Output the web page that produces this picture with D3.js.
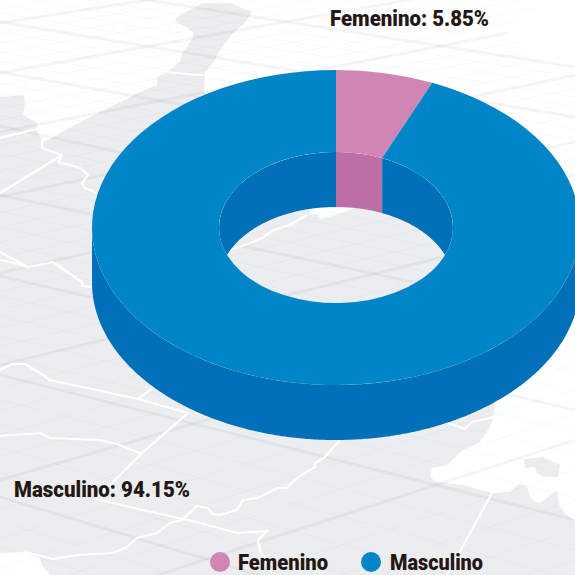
<!DOCTYPE html>
<html>
<head>
<meta charset="utf-8">
<script src="https://d3js.org/d3.v7.min.js"></script>
<style>
  html, body { margin: 0; padding: 0; background: #fff; }
  svg { display: block; }
  text { font-family: Roboto, sans-serif; font-weight: 900; fill: #231815; }
</style>
</head>
<body>
<svg id="donut" width="575" height="575"></svg>
<script>
 // Chart data
 const categories = ["Femenino", "Masculino"];
 const percentLabels = ["5.85%", "94.15%"];
 // the drawn slice in the picture is a bit wider than its label says, so read the angle off it
 const drawnShares = [6.45, 93.55];
 const topColors = ["#d086b5", "#0085c7"];
 const wallColors = ["#bc6fa6", "#0071b8"];

 // Background map, traced by hand. Grid lines are [x0, y0, x1, y1]
 const gridDown = [
     [0,-23,575,67], [0,22,575,117], [0,72,575,175], [0,126,575,252], [0,195,575,316],
     [0,276,575,410], [0,375,575,520], [0,497,575,670], [0,620,575,800]
 ];
 const gridUp = [
     [0,23,575,-67], [0,73,575,-30], [0,132,508,33], [0,197,575,75], [0,273,575,142],
     [0,365,575,225], [0,480,575,313], [0,626,575,440], [0,770,575,590]
 ];
 const land = [
     [[0,97],[24,95],[25,106],[23,115],[37,123],[37,132],[44,142],[75,125],[100,112],[125,100],[140,92],[157,85],
      [157,77],[167,72],[180,62],[183,52],[193,38],[193,32],[175,20],[180,15],[203,3],[230,3],[252,12],[245,23],
      [233,33],[222,47],[213,63],[205,72],[204,92],[215,100],[400,120],[560,300],[495,403],[493,417],[492,423],[480,442],[463,450],[447,465],
      [432,468],[430,477],[437,482],[463,485],[492,493],[510,492],[519,484],[527,487],[530,497],[534,501],[540,503],
      [548,497],[557,490],[558,497],[559,505],[565,513],[575,522],[575,575],[0,575]],
     [[524,459],[543,457],[560,465],[558,477],[545,477],[537,473],[535,467],[525,468]]
 ];
 const seaPatches = [
     [[0,553],[25,552],[40,558],[42,565],[50,575],[0,575]],
     [[310,208],[355,208],[345,212],[325,218],[320,219],[318,214],[310,215]]
 ];
 const borders = [
     [[0,138],[37,129]],
     [[0,193],[62,155]],
     [[42,140],[42,148],[62,155],[58,162],[80,168],[88,175],[82,183],[85,188],[97,193]],
     [[0,252],[28,267],[53,262],[82,282],[82,286],[93,287]],
     [[0,260],[10,262],[28,267]],
     [[0,370],[12,364],[25,364],[43,375],[50,380],[138,399],[188,413],[142,453],[110,485],[95,499]],
     [[138,399],[153,388]],
     [[0,436],[40,433],[50,438],[100,440],[117,444],[142,454]],
     [[95,499],[200,523],[237,533],[267,531],[258,540],[260,550],[273,575]],
     [[340,440],[325,457],[315,463],[315,467],[297,478],[287,488],[278,488],[257,498],[243,500],[237,510],[220,515],
      [212,514],[208,508],[197,506],[182,520],[170,523],[157,533],[137,538],[127,547],[113,553],[77,555],[53,559],[25,552]],
     [[492,493],[447,575]],
     [[448,423],[465,429],[472,422],[493,417]],
     [[230,250],[253,242],[262,238],[273,230],[290,225],[307,215]],
     [[167,72],[197,75],[204,75]]
 ];

 let svg = d3.select("svg#donut");

 const cx = 336, cy = 227.5;
 const outerR = 244, innerR = 117;
 const squash = 0.6455;
 const depth = 55;

 const lineGen = d3.line();

 // Background
 let background = svg.append("g").attr("id", "background");

 background.selectAll("path.land")
     .data(land)
     .join("path")
     .attr("class", "land")
     .attr("d", d => lineGen(d) + "Z")
     .attr("fill", "#ecedef");

 background.selectAll("path.sea")
     .data(seaPatches)
     .join("path")
     .attr("class", "sea")
     .attr("d", d => lineGen(d) + "Z")
     .attr("fill", "#fff");

 // thin lines split every gap between two thick lines in five
 function thinLines(family){
     let out = [];
     for(let i = 0; i < family.length - 1; i++){
         for(let k = 1; k < 5; k++){
             let mix = d3.interpolateNumberArray(family[i], family[i+1])(k/5);
             out.push(Array.from(mix));
         }
     }
     return out;
 }

 let gridThin = thinLines(gridDown).concat(thinLines(gridUp));
 let gridThick = gridDown.concat(gridUp);

 background.selectAll("line.thin")
     .data(gridThin)
     .join("line")
     .attr("class", "thin")
     .attr("x1", d => d[0]).attr("y1", d => d[1])
     .attr("x2", d => d[2]).attr("y2", d => d[3])
     .attr("stroke", "#000")
     .attr("stroke-opacity", 0.03)
     .attr("stroke-width", 0.8);

 background.selectAll("line.thick")
     .data(gridThick)
     .join("line")
     .attr("class", "thick")
     .attr("x1", d => d[0]).attr("y1", d => d[1])
     .attr("x2", d => d[2]).attr("y2", d => d[3])
     .attr("stroke", "#000")
     .attr("stroke-opacity", 0.04)
     .attr("stroke-width", 3);

 background.selectAll("path.border")
     .data(borders)
     .join("path")
     .attr("class", "border")
     .attr("d", d => lineGen(d))
     .attr("fill", "none")
     .attr("stroke", "#fff")
     .attr("stroke-width", 2.2)
     .attr("stroke-linejoin", "round");

 // Donut
 let slices = d3.pie().sort(null).value(d => d)(drawnShares);
 slices.forEach((s, i) => s.index = i);

 let arcGen = d3.arc().innerRadius(innerR).outerRadius(outerR);

 // one point on the rim of the tilted ring
 const rim = (r, a, drop) => [cx + r * Math.sin(a), cy - r * squash * Math.cos(a) + drop];

 // the part of a slice that falls inside the visible range of angles
 function visibleParts(slice, lo, hi){
     let parts = [];
     [0, 2 * Math.PI].forEach(shift => {
         let a = Math.max(slice.startAngle, lo + shift);
         let b = Math.min(slice.endAngle, hi + shift);
         if(b > a) parts.push([a, b]);
     });
     return parts;
 }

 function wallPath(r, a, b){
     let angles = d3.range(a, b, 0.01).concat([b]);
     let upper = angles.map(t => rim(r, t, 0));
     let lower = angles.map(t => rim(r, t, depth)).reverse();
     return lineGen(upper.concat(lower)) + "Z";
 }

 let walls = [];
 slices.forEach(s => {
     visibleParts(s, Math.PI / 2, 3 * Math.PI / 2).forEach(p => walls.push({r: outerR, a: p[0], b: p[1], i: s.index}));
 });
 let innerWalls = [];
 slices.forEach(s => {
     visibleParts(s, -Math.PI / 2, Math.PI / 2).forEach(p => innerWalls.push({r: innerR, a: p[0], b: p[1], i: s.index}));
 });

 svg.append("clipPath").attr("id", "holeClip")
     .append("ellipse")
     .attr("cx", cx).attr("cy", cy)
     .attr("rx", innerR).attr("ry", innerR * squash);

 let donut = svg.append("g").attr("id", "ring");

 donut.append("g").selectAll("path")
     .data(walls)
     .join("path")
     .attr("d", d => wallPath(d.r, d.a, d.b))
     .attr("fill", d => wallColors[d.i]);

 donut.append("g")
     .attr("clip-path", "url(#holeClip)")
     .selectAll("path")
     .data(innerWalls)
     .join("path")
     .attr("d", d => wallPath(d.r, d.a, d.b))
     .attr("fill", d => wallColors[d.i]);

 donut.append("g")
     .attr("transform", `translate(${cx},${cy}) scale(1,${squash})`)
     .selectAll("path")
     .data(slices)
     .join("path")
     .attr("d", arcGen)
     .attr("fill", d => topColors[d.index]);

 // Labels
 const labelPlaces = [
     {x: 330, y: 26, w: 159},
     {x: 14, y: 497, w: 176}
 ];
 svg.append("g").attr("id", "labels").selectAll("text")
     .data(categories)
     .join("text")
     .attr("x", (d, i) => labelPlaces[i].x)
     .attr("y", (d, i) => labelPlaces[i].y)
     .attr("font-size", 22)
     .attr("textLength", (d, i) => labelPlaces[i].w)
     .attr("lengthAdjust", "spacingAndGlyphs")
     .text((d, i) => `${d}: ${percentLabels[i]}`);

 // Legend
 const legendPlaces = [
     {cx: 220, x: 238, w: 90},
     {cx: 371, x: 390, w: 93}
 ];
 let legend = svg.append("g").attr("id", "legend").selectAll("g")
     .data(categories)
     .join("g");

 legend.append("circle")
     .attr("cx", (d, i) => legendPlaces[i].cx)
     .attr("cy", 562)
     .attr("r", 10)
     .attr("fill", (d, i) => topColors[i]);

 legend.append("text")
     .attr("x", (d, i) => legendPlaces[i].x)
     .attr("y", 570)
     .attr("font-size", 22)
     .attr("textLength", (d, i) => legendPlaces[i].w)
     .attr("lengthAdjust", "spacingAndGlyphs")
     .text(d => d);
</script>
</body>
</html>
